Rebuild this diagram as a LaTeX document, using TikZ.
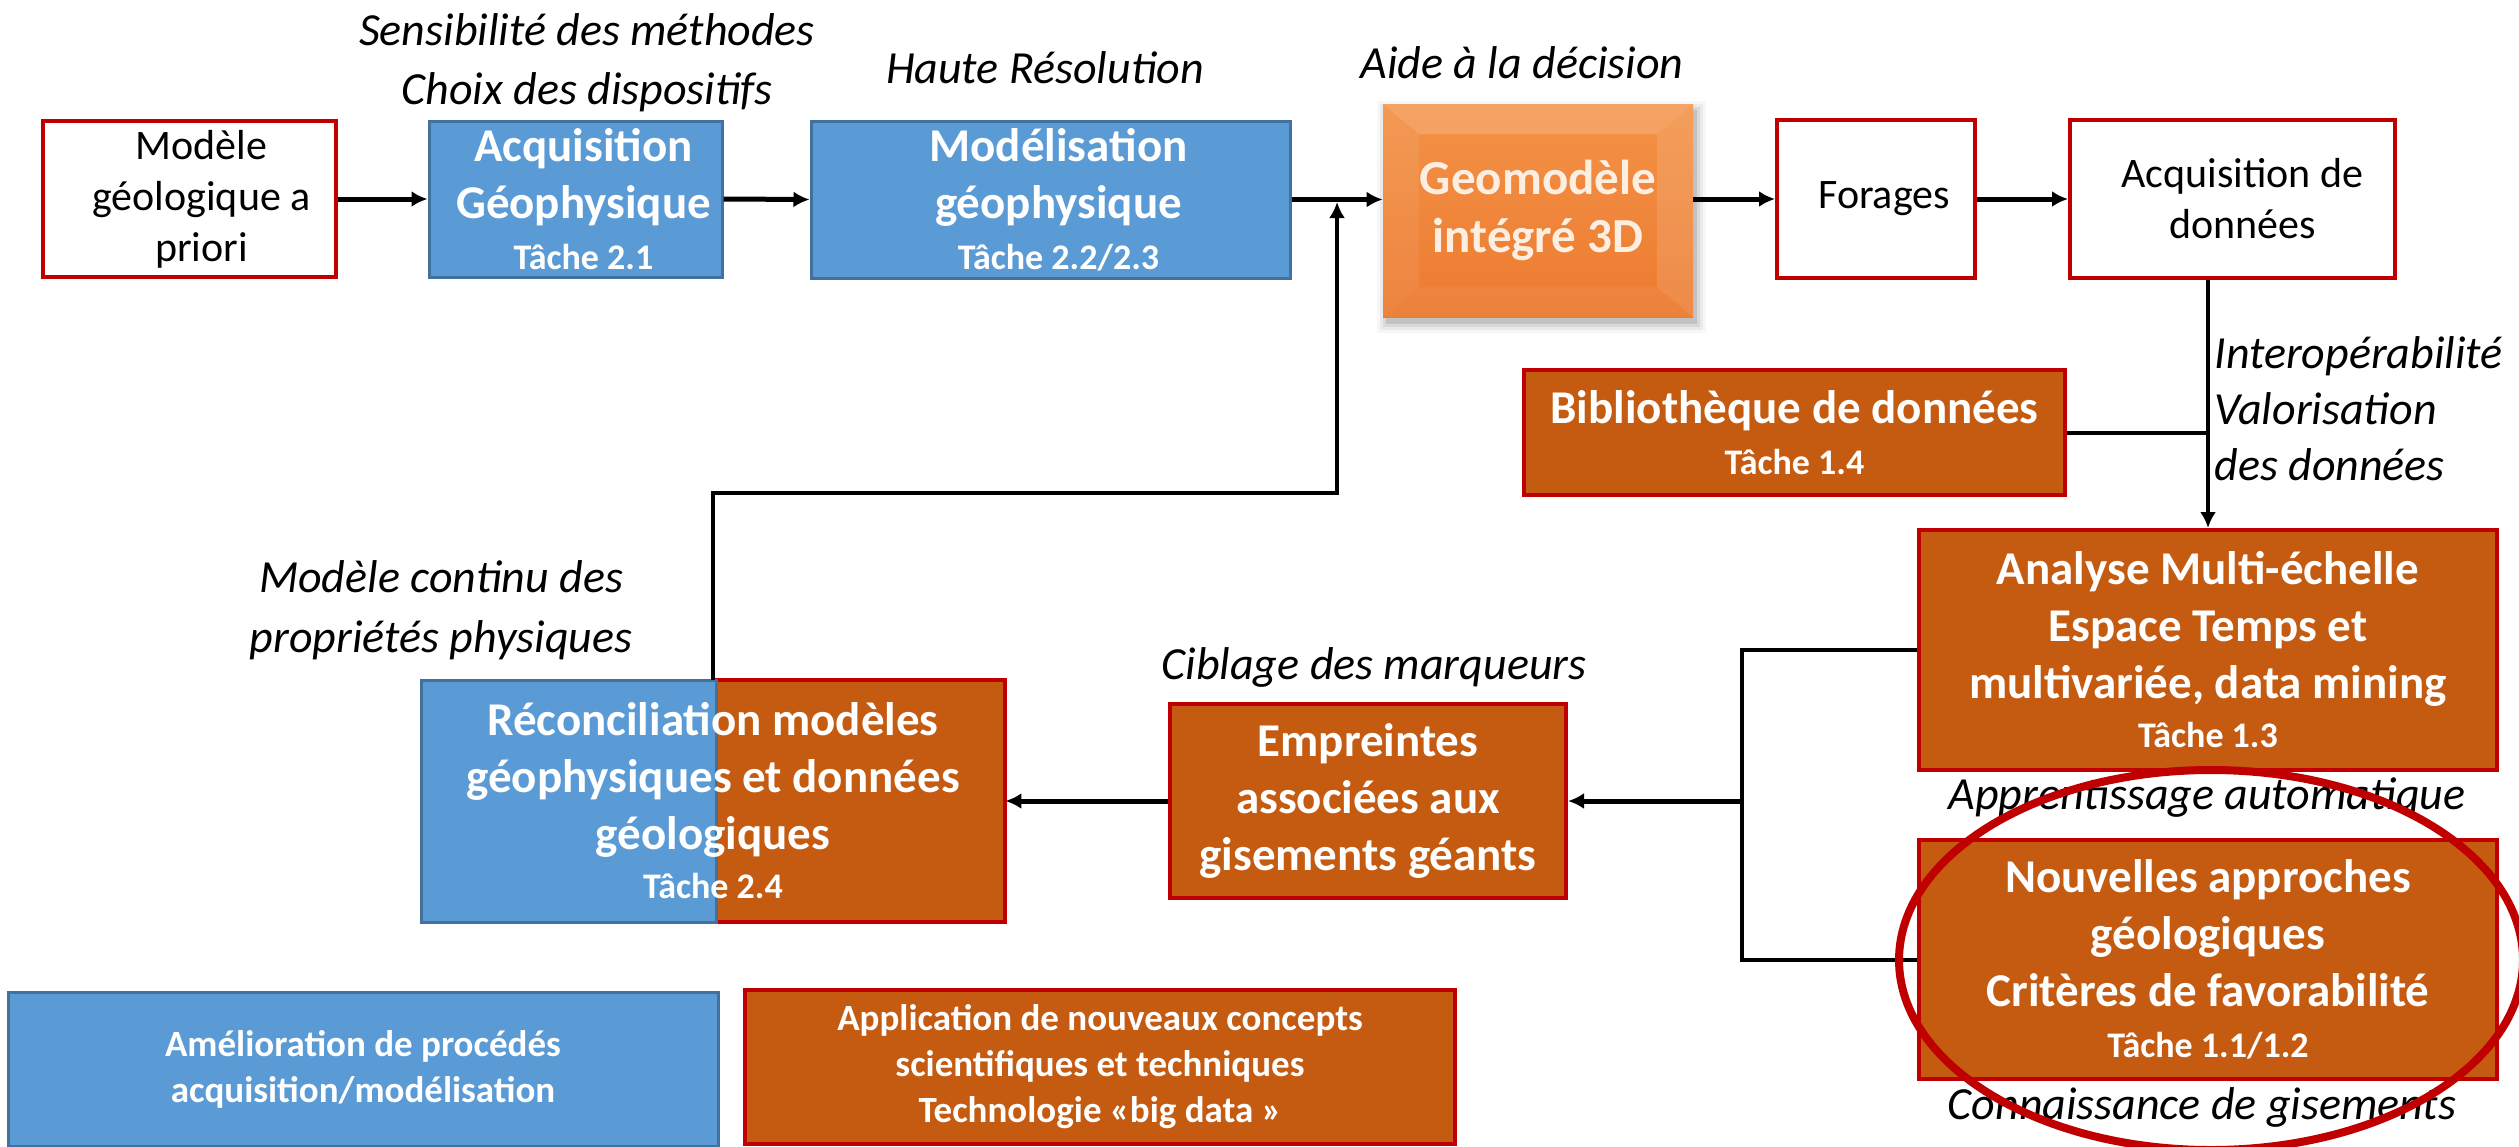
\documentclass[tikz,border=0pt]{standalone}
\usepackage{fontspec}
\setmainfont{Carlito}
\usetikzlibrary{arrows.meta,calc,shapes.geometric}
\definecolor{bluebox}{HTML}{5B9BD5}
\definecolor{blueedge}{HTML}{41719C}
\definecolor{orbox}{HTML}{C55A11}
\definecolor{rededge}{HTML}{C00000}
\definecolor{geotext}{HTML}{FDEEE2}
\definecolor{geotop}{HTML}{F39247}
\definecolor{geobot}{HTML}{EC7B30}
\newcommand{\myboxfont}{\fontsize{23.5}{28.5}\selectfont\bfseries}
\newcommand{\mytachefont}{\fontsize{18}{22}\selectfont\bfseries}
\newcommand{\myregfont}{\fontsize{21}{25.5}\selectfont}
\newcommand{\myannfont}{\fontsize{23}{28}\selectfont\itshape}
\newcommand{\mysmallbold}{\fontsize{18.5}{23}\selectfont\bfseries}
\newcommand{\mygeofont}{\fontsize{24.5}{29}\selectfont\bfseries}
\tikzset{
  basebx/.style={inner sep=0pt, align=center, text=white},
  bluebx/.style={basebx, fill=bluebox, draw=blueedge, line width=1.5pt, font=\myboxfont},
  orbx/.style={basebx, fill=orbox, draw=rededge, line width=2pt, font=\myboxfont},
  whitebx/.style={basebx, fill=white, draw=rededge, line width=2pt, text=black, font=\myregfont},
  ann/.style={inner sep=0pt, align=center, font=\myannfont, text=black},
  conn/.style={line width=2.5pt, black},
  arr/.style={conn, -{Latex[length=8pt,width=8pt]}},
}
\begin{document}
\begin{tikzpicture}[x=0.5pt,y=-0.5pt]
\useasboundingbox[fill=white] (0,0) rectangle (2519,1146);

% annotations
\node[ann] (t1) at (587,63) {Sensibilité des méthodes\\[1.5pt]Choix des dispositifs};
\node[ann] (t2) at (1045,68) {Haute Résolution};
\node[ann] (t3) at (1522,63) {Aide à la décision};
\node[ann, align=left, anchor=west] (t4) at (2214,409) {Interopérabilité\\Valorisation\\des données};
\node[ann] (t5) at (441,610) {Modèle continu des\\[2pt]propriétés physiques};
\node[ann] (t6) at (1374,667) {Ciblage des marqueurs};
\node[ann] (t7) at (2207,798) {Apprentissage automatique};
\node[ann] (t8) at (2202,1107) {Connaissance de gisements};

% top row
\node[whitebx, minimum width=146.5pt, minimum height=78pt] (modele) at (189.5,199)
  {\hspace*{12pt}Modèle\\\hspace*{12pt}géologique a\\\hspace*{12pt}priori};
\node[bluebx, minimum width=146.5pt, minimum height=78pt] (acq) at (575.5,199)
  {\hspace*{8pt}Acquisition\\\hspace*{8pt}Géophysique\\[-3pt]\hspace*{8pt}{\mytachefont Tâche 2.1}};
\node[bluebx, minimum width=239.5pt, minimum height=78.5pt] (model) at (1050.5,199.5)
  {\hspace*{8pt}Modélisation\\\hspace*{8pt}géophysique\\[-3pt]\hspace*{8pt}{\mytachefont Tâche 2.2/2.3}};

% geomodele shadow
\foreach \i/\o in {0/0.10,3/0.07,6/0.05,9/0.03}
  \fill[black,opacity=\o] (1386-\i,110-\i) rectangle (1697+\i,324+\i);
\node[basebx, text=geotext, font=\mygeofont, minimum width=155pt, minimum height=106.5pt,
  top color=geotop, bottom color=geobot,
  path picture={
    \fill[white,opacity=0.17] (path picture bounding box.north west) -- (path picture bounding box.north east)
      -- ([shift={(-18pt,-15pt)}]path picture bounding box.north east) -- ([shift={(18pt,-15pt)}]path picture bounding box.north west) -- cycle;
    \fill[white,opacity=0.07] (path picture bounding box.north west) -- (path picture bounding box.south west)
      -- ([shift={(18pt,15pt)}]path picture bounding box.south west) -- ([shift={(18pt,-15pt)}]path picture bounding box.north west) -- cycle;
    \fill[white,opacity=0.12] (path picture bounding box.north east) -- (path picture bounding box.south east)
      -- ([shift={(-18pt,15pt)}]path picture bounding box.south east) -- ([shift={(-18pt,-15pt)}]path picture bounding box.north east) -- cycle;
    \fill[white,opacity=0.05] (path picture bounding box.south west) -- (path picture bounding box.south east)
      -- ([shift={(-18pt,15pt)}]path picture bounding box.south east) -- ([shift={(18pt,15pt)}]path picture bounding box.south west) -- cycle;
  }] (geo) at (1538,210.5) {Geomodèle\\intégré 3D};

\node[whitebx, minimum width=99pt, minimum height=79pt] (forages) at (1876,199) {\hspace*{8pt}Forages};
\node[whitebx, minimum width=162.5pt, minimum height=79pt] (acqd) at (2232.5,199)
  {\hspace*{10pt}Acquisition de\\\hspace*{10pt}données};

% middle
\node[orbx, minimum width=270.5pt, minimum height=62.5pt] (biblio) at (1794.5,432.5)
  {Bibliothèque de données\\[-3pt]{\mytachefont Tâche 1.4}};
\node[orbx, minimum width=289pt, minimum height=120pt] (analyse) at (2208,650)
  {Analyse Multi-échelle\\Espace Temps et\\multivariée, data mining\\[-4pt]{\mytachefont Tâche 1.3}};
\node[orbx, minimum width=289pt, minimum height=119.5pt] (nouv) at (2208,959.5)
  {Nouvelles approches\\géologiques\\Critères de favorabilité\\[-3pt]{\mytachefont Tâche 1.1/1.2}};
\node[orbx, minimum width=198pt, minimum height=97pt] (empr) at (1368,801)
  {Empreintes\\associées aux\\gisements géants};

% reconciliation (two halves)
\filldraw[fill=orbox, draw=rededge, line width=2pt] (716,680) rectangle (1005,922);
\filldraw[fill=bluebox, draw=blueedge, line width=1.5pt] (421,680) rectangle (716,922);
\node[basebx, font=\myboxfont, minimum width=292pt, minimum height=121pt] (recon) at (713,801)
  {Réconciliation modèles\\géophysiques et données\\géologiques\\[-4pt]{\mytachefont Tâche 2.4}};

% bottom legend boxes
\node[bluebx, font=\mysmallbold, minimum width=355pt, minimum height=77pt] (amel) at (363,1069)
  {Amélioration de procédés\\acquisition/modélisation};
\node[orbx, font=\mysmallbold, minimum width=355pt, minimum height=77pt] (appl) at (1100,1067)
  {\fontsize{18.5}{22}\selectfont Application de nouveaux concepts\\scientifiques et techniques\\Technologie «big data »};

% connectors
\draw[arr] (modele.east) -- (acq.west);
\draw[arr] (acq.east) -- (model.west);
\draw[arr] (model.east) -- (model.east -| geo.west);
\coordinate (merge) at ($(model.east)!0.5!(model.east -| geo.west)$);
\draw[arr] (forages.west -| geo.east) -- (forages.west);
\draw[arr] (forages.east) -- (acqd.west);
\draw[arr, line width=1.75pt] (analyse.north |- acqd.south) -- (analyse.north);
\draw[conn, line width=2pt] (biblio.east) -- (analyse.north |- biblio.east);
\coordinate (bx) at (1742,800);
\draw[conn, line width=2pt] (analyse.west) -- (analyse.west -| bx) -- (nouv.west -| bx) -- (nouv.west);
\draw[arr] (bx |- empr.east) -- (empr.east);
\draw[arr] (empr.west) -- (recon.east);
\draw[arr, line width=2pt] (recon.north) -- ++(0,-187) -| ([yshift=-1.25pt]merge);

% highlight ellipse
\node[draw=rededge, line width=4pt, ellipse, inner sep=0pt, minimum width=312pt, minimum height=190pt] (focus) at (2211,960) {};
\end{tikzpicture}
\end{document}
